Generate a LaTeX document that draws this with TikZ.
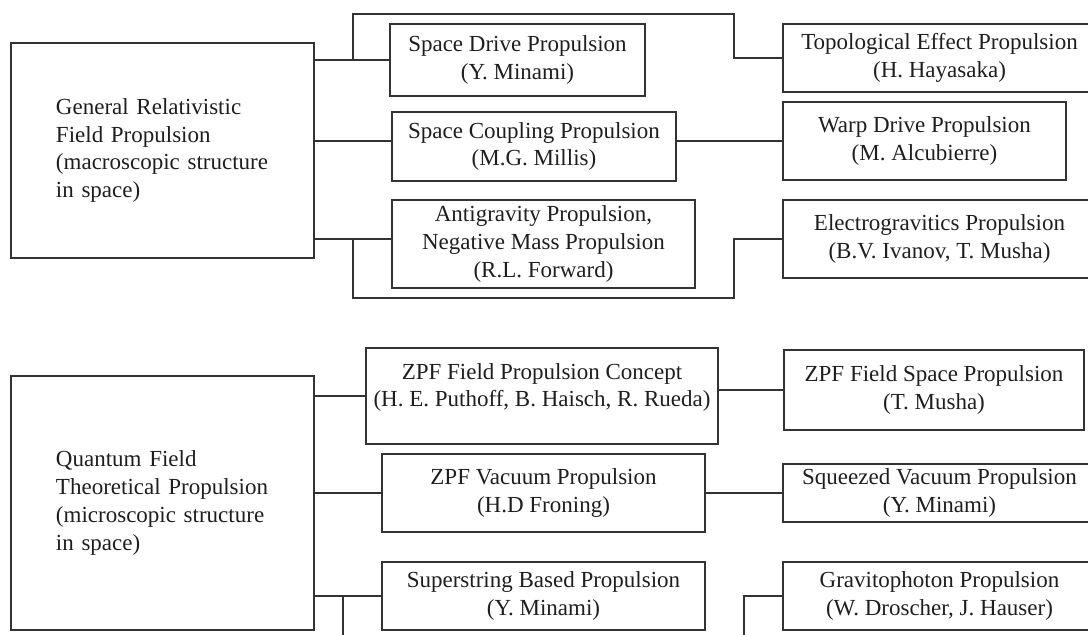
\documentclass[tikz,border=0pt]{standalone}
\usepackage{fontspec}
\setmainfont{Liberation Serif}
\definecolor{linec}{HTML}{333333}
\definecolor{textc}{HTML}{1E1E1E}
\tikzset{
  box/.style={draw=linec, line width=1.2pt, rectangle, inner sep=0pt, align=center,
    text=textc, font=\fontsize{23pt}{27.7pt}\selectfont},
  bigbox/.style={box, align=left, inner xsep=45pt, text width=213pt},
  conn/.style={draw=linec, line width=1.2pt},
}
\begin{document}
\begin{tikzpicture}[x=1pt,y=-1pt]
\useasboundingbox (0,0) rectangle (1088,635);
\clip (0,0) rectangle (1088,635);
% left big boxes
\node[bigbox, minimum height=215pt] (GR) at (162.5,150.5)
  {General Relativistic\\Field Propulsion\\(macroscopic structure\\in space)};
\node[bigbox, minimum height=254pt] (QF) at (162.5,503)
  {Quantum Field\\Theoretical Propulsion\\(microscopic structure\\in space)};
% middle column (top)
\node[box, minimum width=255pt, minimum height=72pt] (SD) at (517.5,60)
  {Space Drive Propulsion\\(Y. Minami)};
\node[box, minimum width=284pt, minimum height=69pt] (SC) at (534,146.5)
  {Space Coupling Propulsion\\(M.G. Millis)};
\node[box, minimum width=303pt, minimum height=88pt] (AG) at (543.5,244)
  {Antigravity Propulsion,\\Negative Mass Propulsion\\(R.L. Forward)};
% right column (top)
\node[box, minimum width=313pt, minimum height=68pt] (TE) at (939.5,58)
  {Topological Effect Propulsion\\(H. Hayasaka)};
\node[box, minimum width=283pt, minimum height=78pt] (WD) at (924.5,141)
  {Warp Drive Propulsion\\(M. Alcubierre)};
\node[box, minimum width=313pt, minimum height=78pt] (EG) at (939.5,239)
  {Electrogravitics Propulsion\\(B.V. Ivanov, T. Musha)};
% middle column (bottom)
\node[box, minimum width=352pt, minimum height=96pt] (ZC) at (542,396)
  {ZPF Field Propulsion Concept\\(H. E. Puthoff, B. Haisch, R. Rueda)\\[-14pt]\strut};
\node[box, minimum width=323pt, minimum height=78pt] (ZV) at (543.5,493)
  {ZPF Vacuum Propulsion\\(H.D Froning)};
\node[box, minimum width=323pt, minimum height=68pt] (SS) at (543.5,596)
  {Superstring Based Propulsion\\(Y. Minami)};
% right column (bottom)
\node[box, minimum width=300pt, minimum height=80pt] (ZS) at (934,390)
  {ZPF Field Space Propulsion\\(T. Musha)};
\node[box, minimum width=313pt, minimum height=58pt] (SQ) at (939.5,493)
  {Squeezed Vacuum Propulsion\\(Y. Minami)};
\node[box, minimum width=313pt, minimum height=68pt] (GP) at (939.5,596)
  {Gravitophoton Propulsion\\(W. Droscher, J. Hauser)};
% helper coordinates
\coordinate (ta) at (353,14);
\coordinate (tb) at (734,14);
\coordinate (ba) at (353,298);
\coordinate (bb) at (734,298);
\coordinate (sa) at (343,640);
\coordinate (ga) at (744,640);
% top connectors
\draw[conn] (GR.east |- SD.west) -- (SD.west);
\draw[conn] (ta |- SD.west) -- (ta) -- (tb) -- (tb |- TE.west) -- (TE.west);
\draw[conn] (GR.east |- WD.west) -- (SC.west |- WD.west);
\draw[conn] (SC.east |- WD.west) -- (WD.west);
\draw[conn] (GR.east |- EG.west) -- (AG.west |- EG.west);
\draw[conn] (ba |- EG.west) -- (ba) -- (bb) -- (bb |- EG.west) -- (EG.west);
% bottom connectors
\draw[conn] (QF.east |- ZC.west) -- (ZC.west);
\draw[conn] (ZC.east |- ZS.west) -- (ZS.west);
\draw[conn] (QF.east |- ZV.west) -- (ZV.west);
\draw[conn] (ZV.east) -- (SQ.west);
\draw[conn] (QF.east |- SS.west) -- (SS.west);
\draw[conn] (sa |- SS.west) -- (sa);
\draw[conn] (GP.west) -- (ga |- GP.west) -- (ga);
\end{tikzpicture}
\end{document}
